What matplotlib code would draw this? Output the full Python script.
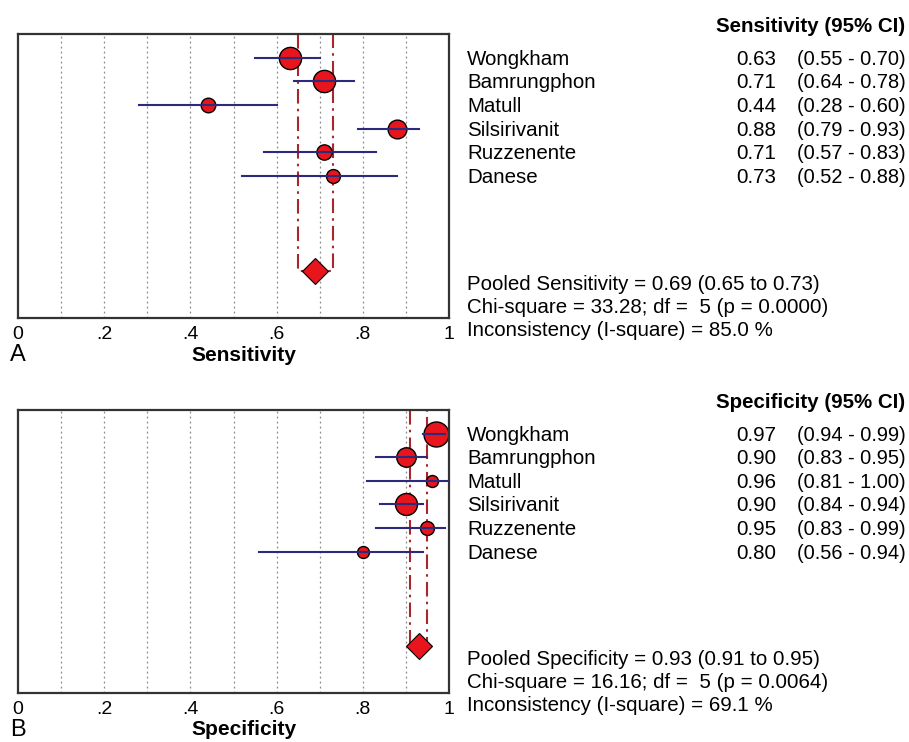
import matplotlib
matplotlib.use("Agg")
import matplotlib.pyplot as plt
from matplotlib.transforms import blended_transform_factory

plt.rcParams['font.family'] = ['Liberation Sans', 'DejaVu Sans']

studies = ["Wongkham", "Bamrungphon", "Matull", "Silsirivanit", "Ruzzenente", "Danese"]

sens = [0.63, 0.71, 0.44, 0.88, 0.71, 0.73]
sens_lo = [0.55, 0.64, 0.28, 0.79, 0.57, 0.52]
sens_hi = [0.70, 0.78, 0.60, 0.93, 0.83, 0.88]
sens_weight = [16, 16, 10.5, 13.5, 11, 10]
sens_pooled = [0.69, 0.65, 0.73]
sens_stats = [33.28, 5, 0.0000, 85.0]

spec = [0.97, 0.90, 0.96, 0.90, 0.95, 0.80]
spec_lo = [0.94, 0.83, 0.81, 0.84, 0.83, 0.56]
spec_hi = [0.99, 0.95, 1.00, 0.94, 0.99, 0.94]
spec_weight = [18, 14, 8.6, 15.8, 10, 8.6]
spec_pooled = [0.93, 0.91, 0.95]
spec_stats = [16.16, 5, 0.0064, 69.1]

tick_vals = [0, 0.2, 0.4, 0.6, 0.8, 1]
tick_labels = ["0", ".2", ".4", ".6", ".8", "1"]

W, H = 909, 742
fs = 14.8
fig = plt.figure(figsize=(W / 100, H / 100), dpi=100)


def panel(top_px, bottom_px, est, lo, hi, weight, pooled, stats, name, letter):
    ax = fig.add_axes([18 / W, 1 - bottom_px / H, (449 - 18) / W, (bottom_px - top_px) / H])
    rows = list(range(1, len(studies) + 1))
    pool_row = 10

    # grid
    for g in [0.1, 0.2, 0.3, 0.4, 0.5, 0.6, 0.7, 0.8, 0.9]:
        ax.axvline(g, color='#8a8a8a', linestyle=(0, (1.5, 2.5)), linewidth=0.9, zorder=0)

    # pooled CI bracket
    ax.plot([pooled[1], pooled[1], pooled[2], pooled[2]], [0, pool_row, pool_row, 0],
            color='#a8262c', linestyle=(0, (7, 2.5, 1.2, 2.5)), linewidth=1.5, zorder=1)

    for r, e, l, h, s in zip(rows, est, lo, hi, weight):
        ax.plot(e, r, 'o', color='#e8161c', markeredgecolor='black', markeredgewidth=1,
                markersize=s, zorder=2, clip_on=False)
        ax.plot([l, h], [r, r], color='#2c2a7c', linewidth=1.5, zorder=3, clip_on=False)

    ax.plot(pooled[0], pool_row, 'D', color='#e8161c', markeredgecolor='black',
            markeredgewidth=0.8, markersize=13, zorder=4)

    ax.set_xlim(0, 1)
    ax.set_ylim(12, 0)
    ax.set_yticks([])
    ax.set_xticks(tick_vals)
    ax.set_xticklabels(tick_labels)
    ax.tick_params(axis='x', length=0, pad=6, labelsize=14)
    for sp in ax.spines.values():
        sp.set_color('#333333')
        sp.set_linewidth(1.6)
    ax.set_xlabel(name, fontsize=15, fontweight='bold', va='top')
    ax.xaxis.set_label_coords(0.525, -0.097)
    fig.text(10 / W, 1 - min(bottom_px + 48, H - 1) / H, letter, fontsize=17, va='bottom', ha='left')

    # right hand table
    tr = blended_transform_factory(fig.transFigure, ax.transData)
    ax.text(905 / W, -0.1, name + " (95% CI)", transform=tr, ha='right', va='baseline',
            fontsize=fs, fontweight='bold')
    for r, n, e, l, h in zip(rows, studies, est, lo, hi):
        ax.text(467 / W, r + 0.3, n, transform=tr, va='baseline', fontsize=fs)
        ax.text(776 / W, r + 0.3, f"{e:.2f}", transform=tr, ha='right', va='baseline', fontsize=fs)
        ax.text(797 / W, r + 0.3, f"({l:.2f} - {h:.2f})", transform=tr, va='baseline', fontsize=14.4)

    lines = [f"Pooled {name} = {pooled[0]:.2f} ({pooled[1]:.2f} to {pooled[2]:.2f})",
             f"Chi-square = {stats[0]:.2f}; df =  {stats[1]} (p = {stats[2]:.4f})",
             f"Inconsistency (I-square) = {stats[3]:.1f} %"]
    for i, t in enumerate(lines):
        ax.text(467 / W, 10.8 + 0.98 * i, t, transform=tr, va='baseline', fontsize=fs)
    return ax


panel(34, 318, sens, sens_lo, sens_hi, sens_weight, sens_pooled, sens_stats, "Sensitivity", "A")
panel(410, 693, spec, spec_lo, spec_hi, spec_weight, spec_pooled, spec_stats, "Specificity", "B")

fig.savefig("out.png", dpi=100)
